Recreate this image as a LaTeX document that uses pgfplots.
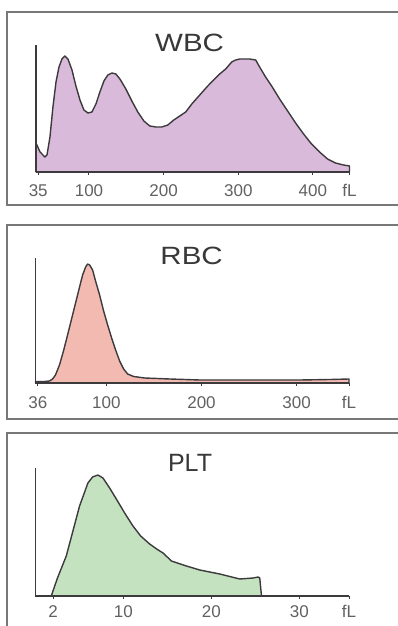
\documentclass[border=0pt]{standalone}
\usepackage{fontspec}
\setmainfont{Liberation Sans}
\usepackage{graphicx}
\usepackage{pgfplots}
\pgfplotsset{compat=1.18}
\definecolor{wbcfill}{RGB}{218,186,218}
\definecolor{rbcfill}{RGB}{243,186,178}
\definecolor{pltfill}{RGB}{196,226,192}
\definecolor{curve}{RGB}{60,58,60}
\definecolor{framec}{RGB}{120,120,120}
\pgfplotsset{
  hist/.style={
    scale only axis, width=313.5pt,
    axis x line=bottom, axis y line=left,
    axis line style={-, draw=curve, line width=1.4pt},
    ymin=0, ytick=\empty,
    xtick align=outside, major tick length=3pt,
    tick style={draw=curve, line width=1pt},
    xticklabel style={text=black!62, font=\fontsize{17}{17}\selectfont, yshift=-6pt},
    title style={font=\fontsize{25}{25}\selectfont, text=black!78, anchor=center},
    axis on top, clip=false,
  },
  curvest/.style={draw=curve, line width=1.4pt, line join=round},
}
\begin{document}
\begin{tikzpicture}[x=1pt,y=1pt]
\draw[framec, line width=1.4pt] (399,614) -- (7,614) -- (7,421) -- (399,421);
\draw[framec, line width=1.4pt] (399,401) -- (7,401) -- (7,207) -- (399,207);
\draw[framec, line width=1.4pt] (399,193) -- (7,193) -- (7,-2);
% WBC
\begin{axis}[hist, name=wbc, at={(36pt,454pt)}, anchor=south west, height=127pt, ymax=127,
  xmin=29, xmax=449,
  xtick={32,100,200,300,400,449}, xticklabels={35,100,200,300,400,fL},
  title={\scalebox{1.18}[1]{WBC}},
  title style={at={(axis description cs:0.49,0.973)}}]
\addplot[curvest, fill=wbcfill] coordinates {
(29,29) (34.4,20) (41,15) (43.7,17) (47.7,35) (51.7,65) (55.8,90) (59.8,105)
(63.8,113) (67.8,116) (71.8,113) (77.2,102) (82.5,86) (87.9,72) (93.2,62)
(98.6,59) (103.9,60) (109.3,68) (114.6,80) (120,91) (125.3,97) (130.7,99)
(136,98) (141.4,93) (149.4,83) (157.4,71) (165.4,60) (173.5,51) (181.5,46)
(189.5,45) (197.5,45) (205.6,47) (213.6,52) (221.6,56) (229.6,60) (237.7,68)
(248.4,77) (259.1,86) (267.1,92) (275.1,98) (283.1,103) (291.2,110)
(296.5,112) (301.9,113) (315.2,113) (323.3,112) (328.6,105) (336.6,95)
(344.7,86) (355.4,73) (366.1,61) (376.8,49) (387.5,38) (398.2,28)
(408.9,20) (419.6,13) (430.3,9) (441,7) (449,6)
} \closedcycle;
\end{axis}
% RBC
\begin{axis}[hist, name=rbc, at={(35.5pt,243pt)}, anchor=south west, height=125pt, ymax=125,
  xmin=25.6, xmax=355,
  xtick={28,100,200,300,355}, xticklabels={36,100,200,300,fL},
  xticklabel style={yshift=-1pt},
  title={\scalebox{1.18}[1]{RBC}},
  title style={at={(axis description cs:0.498,0.972)}}]
\addplot[curvest, fill=rbcfill] coordinates {
(25.6,1.5) (35,1.5) (40.3,2) (43.5,4) (46.6,8) (50.8,18) (55,32) (59.3,48)
(63.5,64) (67.7,80) (71.9,96) (75.1,108) (78.3,116) (80.4,119) (82.5,118)
(85.6,113) (88.7,102) (93,88) (97.2,72) (101.4,58) (105.6,45) (109.8,33)
(114,22) (118.2,14) (122.4,9) (128.7,6.5) (140.3,5) (166.6,4) (198.2,3)
(250.8,3) (303.5,3) (335,3.5) (355,4)
} \closedcycle;
\end{axis}
% PLT
\begin{axis}[hist, name=plt, at={(35.5pt,30pt)}, anchor=south west, height=128pt, ymax=128,
  xmin=0, xmax=35.65,
  xtick={2,10,20,30,35.65}, xticklabels={2,10,20,30,fL},
  xticklabel style={yshift=3pt},
  title={PLT},
  title style={at={(axis description cs:0.493,0.99)}}]
\addplot[curvest, fill=pltfill] coordinates {
(1.79,0) (2.5,18) (3.5,40) (5.01,90) (5.96,113) (6.49,119) (7.1,121)
(7.67,118) (8.43,108) (9.19,97) (10.14,83) (11.08,70) (11.96,60) (12.98,52)
(13.78,47) (14.5,43) (15.46,35) (17.16,30) (18.68,26) (20.96,22) (23.23,17)
(24.75,18) (25.32,19) (25.5,18) (25.7,0)
} \closedcycle;
\end{axis}
\pgfresetboundingbox
\path[use as bounding box] (0,0) rectangle (398,626);
\end{tikzpicture}
\end{document}
